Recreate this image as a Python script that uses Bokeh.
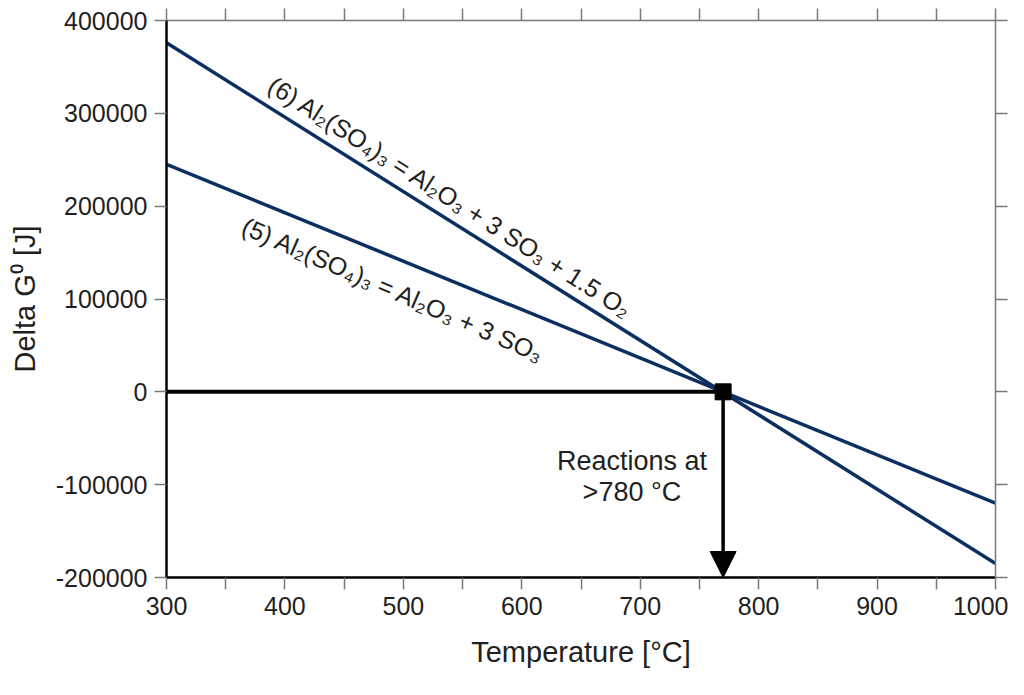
import numpy as np
from bokeh.plotting import figure
from bokeh.models import (Range1d, LinearAxis, FixedTicker, Label, Arrow, NormalHead,
                          NumeralTickFormatter, CustomJSTickFormatter)
from bokeh.embed import file_html
from bokeh.resources import INLINE

# ---- data ----
temperature = [300, 1000]
dg_reaction6 = [376000, -185000]
dg_reaction5 = [245000, -120000]
t_cross = 770
x_ticks = [300, 400, 500, 600, 700, 800, 900, 1000]
x_minor = [350, 450, 550, 650, 750, 850, 950]
y_ticks = [-200000, -100000, 0, 100000, 200000, 300000, 400000]
label6 = "(6) Al₂(SO₄)₃ = Al₂O₃ + 3 SO₃ + 1.5 O₂"
label5 = "(5) Al₂(SO₄)₃ = Al₂O₃ + 3 SO₃"
note = "Reactions at\n>780 °C"

FONT = "Liberation Sans"
NAVY = "#0b2f5e"
INK = "#231f20"
GREY = "#7a7a7a"

p = figure(width=1008, height=679, output_backend="svg", toolbar_location=None,
           x_range=Range1d(300, 1000), y_range=Range1d(-200000, 400000),
           min_border_left=166, min_border_right=13, min_border_top=20, min_border_bottom=102,
           x_axis_location=None, y_axis_location=None)
p.outline_line_color = None
p.grid.visible = False
p.background_fill_color = "white"

xt = FixedTicker(ticks=x_ticks, minor_ticks=x_minor)
yt = FixedTicker(ticks=y_ticks, minor_ticks=[])
blank = CustomJSTickFormatter(code="return ''")

def style(ax, line_color, line_width, labels=True):
    ax.axis_line_color = line_color
    ax.axis_line_width = line_width
    ax.major_tick_line_color = GREY
    ax.minor_tick_line_color = GREY
    ax.major_tick_line_width = 1.5
    ax.minor_tick_line_width = 1.5
    ax.major_tick_out = 12
    ax.major_tick_in = 0
    ax.minor_tick_out = 12
    ax.minor_tick_in = 0
    if labels:
        ax.formatter = NumeralTickFormatter(format="0")
        ax.major_label_text_font = FONT
        ax.major_label_text_font_size = "25px"
        ax.major_label_text_color = INK
        ax.axis_label_text_font = FONT
        ax.axis_label_text_font_style = "normal"
        ax.axis_label_text_font_size = "29px"
        ax.axis_label_text_color = INK
    else:
        ax.formatter = blank
        ax.major_label_text_font_size = "1px"
        ax.major_label_standoff = 0

bottom = LinearAxis(ticker=xt, axis_label="Temperature [°C]")
style(bottom, "black", 2.5)
bottom.major_label_standoff = 7
bottom.axis_label_standoff = 18
p.add_layout(bottom, "below")

top = LinearAxis(ticker=xt)
style(top, GREY, 1.5, labels=False)
p.add_layout(top, "above")

left = LinearAxis(ticker=yt, axis_label="Delta G⁰ [J]")
style(left, "black", 2.5)
left.minor_tick_out = 0
left.major_label_standoff = 7
left.axis_label_standoff = 12
p.add_layout(left, "left")

right = LinearAxis(ticker=yt)
style(right, GREY, 1.5, labels=False)
right.minor_tick_out = 0
p.add_layout(right, "right")

# reaction lines
p.line(temperature, dg_reaction6, line_color=NAVY, line_width=3.5)
p.line(temperature, dg_reaction5, line_color=NAVY, line_width=3.5)

# zero line to crossing, arrow down, marker
p.line([temperature[0], t_cross], [0, 0], line_color="black", line_width=4)
p.add_layout(Arrow(end=NormalHead(size=26, fill_color="black", line_color="black"),
                   x_start=t_cross, y_start=0, x_end=t_cross, y_end=y_ticks[0],
                   line_color="black", line_width=3.5))
p.scatter([t_cross], [0], marker="square", size=16, fill_color="black", line_color="black")

# labels
p.add_layout(Label(x=388, y=333000, text=label6, angle=np.deg2rad(-32.5),
                   text_font=FONT, text_font_size="25px", text_color=INK,
                   text_baseline="alphabetic"))
p.add_layout(Label(x=365, y=180000, text=label5, angle=np.deg2rad(-23.5),
                   text_font=FONT, text_font_size="25px", text_color=INK,
                   text_baseline="alphabetic"))
p.add_layout(Label(x=693, y=-58000, text=note, text_align="center", text_baseline="top",
                   text_font=FONT, text_font_size="27px", text_color=INK, text_line_height=1.05))

open("out.html", "w").write(file_html(p, INLINE))
